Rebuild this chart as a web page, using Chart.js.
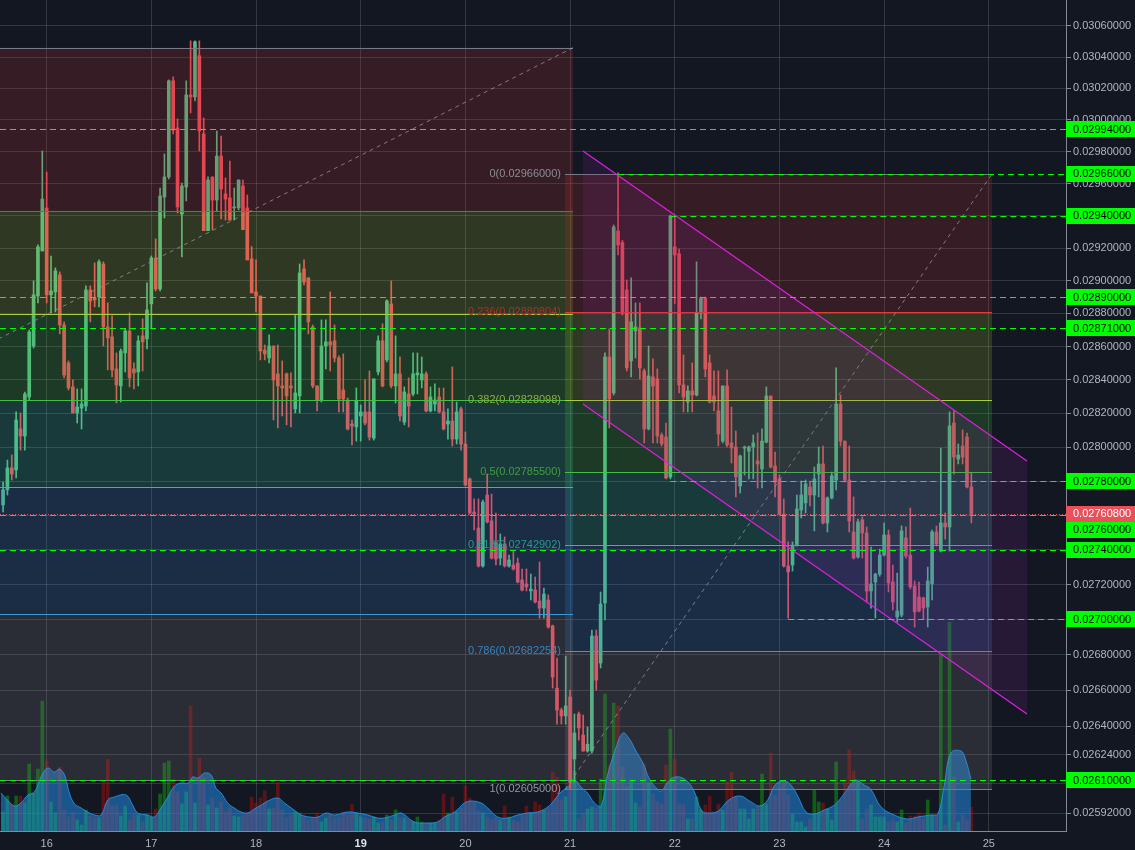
<!DOCTYPE html>
<html>
<head>
<meta charset="utf-8">
<script src="https://cdn.jsdelivr.net/npm/chart.js@4.4.1/dist/chart.umd.min.js"></script>
<style>
  html, body { margin: 0; padding: 0; background: #131722; }
  #wrap { width: 1135px; height: 850px; position: relative; }
</style>
</head>
<body>
<div id="wrap"><canvas id="chart"></canvas></div>
<script>
// hourly candles, hour 0 = day 15 00:00
const firstHour = 14;

const openP = [
  0.02766, 0.027748, 0.027877, 0.027865, 0.028107, 0.028065, 0.028297, 0.028603, 0.028906, 0.029182,
  0.029448, 0.028913, 0.028931, 0.029035, 0.02873, 0.028501, 0.028357, 0.028202, 0.028231, 0.028243,
  0.028943, 0.028894, 0.0289, 0.029102, 0.028718, 0.028658, 0.028465, 0.028363, 0.028561, 0.028694,
  0.028465, 0.028447, 0.028664, 0.028646, 0.028858, 0.029139, 0.028949, 0.029516, 0.029641, 0.030248,
  0.029949, 0.02941, 0.029578, 0.030158, 0.030146, 0.030408, 0.029911, 0.029307, 0.029641, 0.029497,
  0.029772, 0.029535, 0.02951, 0.029448, 0.029448, 0.029585, 0.029448, 0.029133, 0.028931, 0.028906,
  0.028579, 0.028531, 0.028603, 0.028435, 0.028363, 0.028435, 0.028363, 0.028226, 0.028303, 0.029072,
  0.029017, 0.028718, 0.028363, 0.028279, 0.028603, 0.028628, 0.028634, 0.028531, 0.028339, 0.028279,
  0.028136, 0.028119, 0.028184, 0.028208, 0.028208, 0.028053, 0.028447, 0.028634, 0.028519, 0.028858,
  0.028363, 0.028435, 0.028148, 0.028315, 0.028315, 0.028429, 0.028399, 0.028435, 0.028214, 0.028255,
  0.028297, 0.028208, 0.028136, 0.028154, 0.028047, 0.028226, 0.028018, 0.027812, 0.027619, 0.027526,
  0.027306, 0.027718, 0.027567, 0.027439, 0.027352, 0.027433, 0.027306, 0.027312, 0.027323, 0.027226,
  0.027203, 0.027163, 0.027168, 0.027105, 0.027065, 0.027111, 0.026963, 0.026612, 0.026489, 0.026456,
  0.026562, 0.026217, 0.026467, 0.02635, 0.026261, 0.026261, 0.026906, 0.026753, 0.027094, 0.028537,
  0.028321, 0.029305, 0.029234, 0.028943, 0.028513, 0.028694, 0.028712, 0.028453, 0.028107, 0.028417,
  0.028405, 0.028071, 0.028059, 0.027824, 0.029207, 0.029164, 0.028369, 0.028267, 0.028333, 0.028309,
  0.028803, 0.028894, 0.028501, 0.028303, 0.028214, 0.028035, 0.028363, 0.028024, 0.028, 0.027771,
  0.027994, 0.027976, 0.028, 0.027918, 0.027871, 0.028029, 0.028303, 0.027888, 0.027812, 0.027607,
  0.027306, 0.027312, 0.027427, 0.027631, 0.027672, 0.027765, 0.027718, 0.027841, 0.0279, 0.027555,
  0.027701, 0.027806, 0.028255, 0.028035, 0.027806, 0.027503, 0.027358, 0.027573, 0.027497, 0.027163,
  0.027214, 0.027259, 0.027369, 0.027485, 0.027214, 0.027014, 0.027025, 0.027468, 0.027369, 0.027191,
  0.027128, 0.027123, 0.027071, 0.027203, 0.027503, 0.027392, 0.027555, 0.027532, 0.028142, 0.027929,
  0.028006, 0.028059, 0.027765
];
const highP = [
  0.027794, 0.027923, 0.027953, 0.028208, 0.028202, 0.028327, 0.0287, 0.028998, 0.029219, 0.029804,
  0.029672, 0.029151, 0.029078, 0.029053, 0.028749, 0.028513, 0.028399, 0.028345, 0.028345, 0.028968,
  0.028968, 0.029108, 0.029127, 0.029115, 0.028864, 0.028785, 0.028561, 0.028585, 0.028706, 0.028803,
  0.028501, 0.028664, 0.028767, 0.028986, 0.029151, 0.029256, 0.029572, 0.029785, 0.030254, 0.030274,
  0.030006, 0.029603, 0.030248, 0.030504, 0.030504, 0.030504, 0.030012, 0.029641, 0.029641, 0.02993,
  0.029898, 0.029635, 0.029741, 0.029572, 0.029622, 0.029622, 0.029528, 0.029209, 0.029127, 0.028906,
  0.028609, 0.02867, 0.028603, 0.028609, 0.028513, 0.028441, 0.028441, 0.028791, 0.029102, 0.029127,
  0.029017, 0.02873, 0.028363, 0.028761, 0.028761, 0.028931, 0.02873, 0.028543, 0.028555, 0.028291,
  0.02816, 0.028351, 0.028249, 0.028399, 0.028453, 0.028405, 0.028664, 0.028737, 0.028882, 0.028998,
  0.028664, 0.028537, 0.028357, 0.028411, 0.028561, 0.028561, 0.028537, 0.028447, 0.028357, 0.028375,
  0.028351, 0.028351, 0.028226, 0.028477, 0.028267, 0.028237, 0.028089, 0.027818, 0.027695, 0.027695,
  0.027689, 0.027841, 0.027724, 0.027613, 0.027491, 0.027474, 0.027369, 0.027392, 0.027352, 0.027289,
  0.027289, 0.02726, 0.027243, 0.027329, 0.02718, 0.02714, 0.026968, 0.026781, 0.0265, 0.026792,
  0.026601, 0.026467, 0.026478, 0.026461, 0.026394, 0.02694, 0.02694, 0.027157, 0.028561, 0.028706,
  0.029342, 0.029666, 0.029247, 0.029004, 0.029017, 0.028864, 0.028864, 0.028465, 0.028603, 0.028525,
  0.028465, 0.028083, 0.028142, 0.029404, 0.029404, 0.029194, 0.028549, 0.028363, 0.028501, 0.029115,
  0.0289, 0.0289, 0.028549, 0.028453, 0.028453, 0.028363, 0.028459, 0.028237, 0.028095, 0.027953,
  0.028006, 0.028006, 0.028071, 0.028083, 0.028107, 0.028357, 0.028303, 0.02797, 0.027835, 0.027695,
  0.027445, 0.027445, 0.027718, 0.0278, 0.027806, 0.0278, 0.027882, 0.028, 0.028006, 0.027707,
  0.027853, 0.028471, 0.028309, 0.028035, 0.028006, 0.027707, 0.027578, 0.02759, 0.027532, 0.027415,
  0.027265, 0.027404, 0.027555, 0.027514, 0.027312, 0.027265, 0.027538, 0.027532, 0.027642, 0.02722,
  0.027214, 0.027128, 0.0273, 0.027514, 0.027538, 0.027994, 0.027613, 0.028208, 0.028214, 0.028018,
  0.028101, 0.028083, 0.027847
];
const lowP = [
  0.027619, 0.027718, 0.027806, 0.027818, 0.027982, 0.027982, 0.028279, 0.028591, 0.028864, 0.029182,
  0.028864, 0.028803, 0.028809, 0.028676, 0.028411, 0.028339, 0.028202, 0.028142, 0.028107, 0.028214,
  0.028749, 0.02884, 0.02884, 0.028603, 0.028459, 0.028417, 0.028261, 0.028267, 0.028447, 0.028357,
  0.028345, 0.028363, 0.028453, 0.028585, 0.028712, 0.028937, 0.028937, 0.029386, 0.029628, 0.029911,
  0.029417, 0.029145, 0.029491, 0.030044, 0.03012, 0.029804, 0.029307, 0.029307, 0.029313, 0.029429,
  0.02938, 0.029373, 0.029373, 0.029373, 0.029435, 0.029313, 0.029127, 0.028925, 0.028809, 0.028519,
  0.028519, 0.028501, 0.02816, 0.028113, 0.028184, 0.028131, 0.028119, 0.028202, 0.028202, 0.028974,
  0.028676, 0.028351, 0.028214, 0.028267, 0.028465, 0.028453, 0.028507, 0.028208, 0.028208, 0.028101,
  0.028012, 0.028035, 0.028035, 0.028131, 0.028041, 0.028041, 0.028429, 0.028357, 0.028507, 0.028351,
  0.028261, 0.028154, 0.028131, 0.028119, 0.028303, 0.028315, 0.028351, 0.028208, 0.028208, 0.028214,
  0.028202, 0.028101, 0.028047, 0.028006, 0.028018, 0.027982, 0.027771, 0.027607, 0.027514, 0.0273,
  0.0273, 0.027555, 0.027346, 0.027312, 0.027312, 0.0273, 0.0273, 0.027283, 0.027209, 0.027163,
  0.027163, 0.027111, 0.027094, 0.027008, 0.027008, 0.026951, 0.026612, 0.026411, 0.026411, 0.026411,
  0.026052, 0.02609, 0.026322, 0.026261, 0.026255, 0.02625, 0.026601, 0.026725, 0.026997, 0.028113,
  0.028309, 0.029157, 0.028791, 0.028453, 0.028417, 0.028531, 0.028405, 0.028024, 0.028101, 0.028024,
  0.028024, 0.028006, 0.027812, 0.027812, 0.028858, 0.028321, 0.028208, 0.028208, 0.028208, 0.028303,
  0.028767, 0.028417, 0.028261, 0.028214, 0.028006, 0.028024, 0.028, 0.027906, 0.027707, 0.02773,
  0.027835, 0.027812, 0.027812, 0.027759, 0.027759, 0.028024, 0.027877, 0.027707, 0.027602, 0.0273,
  0.027008, 0.027277, 0.027421, 0.027584, 0.027613, 0.027654, 0.027509, 0.027707, 0.027549, 0.027503,
  0.027695, 0.027748, 0.028006, 0.027794, 0.027503, 0.027346, 0.027352, 0.027352, 0.0271, 0.027065,
  0.027008, 0.027247, 0.027364, 0.027157, 0.027054, 0.026986, 0.027014, 0.027352, 0.027174, 0.026957,
  0.027043, 0.027003, 0.026957, 0.027111, 0.027421, 0.027387, 0.027462, 0.027392, 0.027841, 0.0279,
  0.0279, 0.027759, 0.027555
];
const closeP = [
  0.027748, 0.027877, 0.027841, 0.02816, 0.028065, 0.028315, 0.028688, 0.028913, 0.029207, 0.029503,
  0.028913, 0.028937, 0.02906, 0.02873, 0.028429, 0.028351, 0.028202, 0.028237, 0.028255, 0.028943,
  0.028876, 0.028882, 0.029115, 0.028718, 0.028652, 0.028459, 0.028369, 0.028573, 0.028694, 0.028411,
  0.028441, 0.028634, 0.028628, 0.028821, 0.029139, 0.028949, 0.029522, 0.029641, 0.030248, 0.029936,
  0.029454, 0.029585, 0.030158, 0.030146, 0.030498, 0.02993, 0.029307, 0.029622, 0.029497, 0.029772,
  0.029566, 0.029503, 0.029373, 0.029454, 0.029622, 0.029313, 0.029127, 0.028925, 0.028906, 0.028573,
  0.028555, 0.028603, 0.028399, 0.028363, 0.028351, 0.028303, 0.028351, 0.028321, 0.029047, 0.028992,
  0.028749, 0.028363, 0.028279, 0.028603, 0.028628, 0.028609, 0.028531, 0.028285, 0.028285, 0.028107,
  0.028125, 0.028273, 0.028208, 0.028142, 0.028059, 0.028405, 0.028634, 0.028363, 0.028876, 0.028363,
  0.028435, 0.028184, 0.028327, 0.028243, 0.028435, 0.028441, 0.028435, 0.028214, 0.028297, 0.028279,
  0.028208, 0.028107, 0.028154, 0.028047, 0.028208, 0.028018, 0.027777, 0.027613, 0.027607, 0.027306,
  0.027677, 0.027561, 0.027352, 0.027346, 0.027433, 0.027306, 0.027341, 0.027289, 0.027214, 0.027168,
  0.027186, 0.027174, 0.0271, 0.027065, 0.027145, 0.026957, 0.026674, 0.026489, 0.026456, 0.026512,
  0.02609, 0.026361, 0.026389, 0.026261, 0.026299, 0.026906, 0.026657, 0.027088, 0.028537, 0.028285,
  0.02933, 0.029219, 0.028803, 0.028471, 0.028749, 0.028718, 0.028471, 0.028107, 0.028423, 0.028363,
  0.028065, 0.028018, 0.027818, 0.029398, 0.029157, 0.028369, 0.028297, 0.028333, 0.028309, 0.028803,
  0.028894, 0.028465, 0.028267, 0.028267, 0.028077, 0.028363, 0.028012, 0.027994, 0.027824, 0.027947,
  0.028, 0.028, 0.028024, 0.0279, 0.028035, 0.028303, 0.027882, 0.027794, 0.027607, 0.027306,
  0.027272, 0.027427, 0.027637, 0.027718, 0.027783, 0.027718, 0.027812, 0.0279, 0.027555, 0.027701,
  0.02783, 0.028255, 0.028035, 0.027806, 0.027567, 0.027352, 0.027561, 0.027497, 0.027163, 0.027203,
  0.027259, 0.027369, 0.027485, 0.027209, 0.0271, 0.027048, 0.027509, 0.027364, 0.027186, 0.027043,
  0.027048, 0.027065, 0.02722, 0.027503, 0.027433, 0.027555, 0.027532, 0.028125, 0.027941, 0.027953,
  0.027941, 0.027765, 0.027608
];
const volume = [
  19, 35, 27, 35, 35, 28, 67, 38, 62, 130,
  70, 29, 18, 64, 21, 14, 19, 11, 6, 21,
  15, 14, 13, 49, 72, 25, 25, 15, 25, 11,
  16, 16, 9, 16, 14, 22, 37, 68, 70, 52,
  39, 27, 39, 125, 28, 73, 53, 26, 33, 23,
  29, 19, 23, 15, 14, 16, 19, 34, 28, 33,
  40, 22, 23, 49, 21, 13, 16, 19, 18, 16,
  11, 13, 18, 9, 13, 17, 14, 14, 19, 16,
  27, 18, 14, 13, 12, 14, 8, 9, 16, 11,
  21, 13, 13, 11, 9, 14, 9, 8, 8, 8,
  11, 37, 18, 34, 19, 23, 45, 33, 29, 20,
  18, 14, 11, 13, 11, 25, 14, 11, 9, 16,
  25, 18, 29, 26, 21, 23, 59, 54, 31, 34,
  60, 60, 12, 18, 22, 24, 23, 52, 137, 66,
  128, 125, 64, 45, 51, 28, 24, 67, 48, 37,
  29, 27, 66, 102, 72, 27, 26, 12, 12, 34,
  21, 26, 35, 19, 27, 21, 49, 59, 34, 22,
  22, 12, 22, 24, 57, 27, 78, 36, 44, 49,
  36, 17, 9, 9, 4, 12, 41, 29, 28, 22,
  11, 69, 31, 51, 81, 60, 51, 12, 22, 26,
  14, 14, 14, 9, 11, 9, 21, 8, 15, 15,
  18, 12, 31, 16, 17, 176, 6, 209, 54, 9,
  16, 11, 24
];

// volume average (blue area), read at these hours
const volMaHours = [
  13.5, 15, 16.6, 18.1, 19.7, 21.2, 22.7, 24.2, 25.8, 26.9,
  28.1, 29.2, 30.4, 31.9, 33.4, 35, 36.5, 38, 39.5, 42.2,
  43.7, 44.9, 47.2, 48.7, 50.2, 51.8, 53.3, 54.8, 56.4, 57.5,
  58.7, 60.2, 61.7, 62.8, 64, 65.5, 67, 68.6, 70.1, 71.6,
  73.2, 74.7, 77, 78.5, 80.1, 82.4, 84.3, 86.2, 88.1, 90,
  93, 95.3, 97.6, 99.9, 101.4, 103.8, 105.3, 108.3, 111.4, 113.6,
  115.2, 117.5, 119.8, 121.3, 123.6, 125.1, 127.4, 129.7, 132, 134.3,
  136.6, 138.9, 140.4, 141.9, 143.5, 145, 146.5, 148, 149.6, 151.1,
  152.6, 154.5, 156.1, 157.6, 159.1, 160.7, 162.2, 164, 165, 166.4,
  168, 170.2, 172.3, 174.2, 176, 178, 180.4, 183, 185.5, 187.5,
  189.3, 191, 193.2, 194.8, 196.3, 198.1, 200, 202.3, 204.6, 206.8,
  208.4, 209.5, 211.4, 212.9, 215.3, 218.3, 221.4, 223.7, 226.7, 228.3,
  229.8, 231.3, 233.6, 234.7, 235.9
];
const volMaValues = [
  38, 31, 25, 28, 36, 39, 54, 63, 59, 62,
  56, 38, 27, 23, 19, 16, 16, 31, 34, 36,
  26, 18, 16, 14, 23, 34, 45, 48, 48, 54,
  53, 58, 56, 43, 38, 28, 23, 19, 18, 22,
  26, 30, 33, 28, 23, 16, 14, 14, 18, 16,
  19, 18, 16, 13, 13, 16, 18, 9, 8, 9,
  14, 19, 28, 30, 28, 23, 14, 13, 16, 18,
  19, 24, 31, 39, 44, 51, 44, 38, 28, 25,
  56, 83, 98, 92, 80, 68, 52, 42, 40, 49,
  54, 52, 41, 20, 18, 20, 31, 35, 29, 25,
  31, 46, 50, 45, 34, 19, 17, 21, 26, 37,
  47, 51, 46, 42, 24, 16, 12, 14, 16, 17,
  46, 78, 80, 71, 52
];

const dayTicks = [24, 48, 72, 96, 120, 144, 168, 192, 216, 240];
const dayLabels = ["16", "17", "18", "19", "20", "21", "22", "23", "24", "25"];
const boldDay = 96;

const priceTicks = [
  0.0306, 0.0304, 0.0302, 0.03, 0.0298, 0.0296, 0.0294, 0.0292, 0.029, 0.0288,
  0.0286, 0.0284, 0.0282, 0.028, 0.0278, 0.0276, 0.0274, 0.0272, 0.027, 0.0268,
  0.0266, 0.0264, 0.02624, 0.02608, 0.02592
];

// horizontal alerts: price and the hour they start at (null = whole width)
const alertPrices = [0.02994, 0.02966, 0.0294, 0.0289, 0.02871, 0.0278, 0.0276, 0.0274, 0.027, 0.0261];
const alertStart  = [null, 155, 167, null, null, 167, null, null, 194, null];
const lastPrice = 0.027608;

// fib retracements: from = level 1, to = level 0
const fibLevels = [0, 0.236, 0.382, 0.5, 0.618, 0.786, 1];
const fibLeft  = { from: { hour: -186.6, price: 0.0261 },  to: { hour: 144.67, price: 0.03046 } };
const fibRight = { from: { hour: 142.84, price: 0.02605 }, to: { hour: 240.74, price: 0.02966 } };

// descending channel
const channelTop    = [{ hour: 146.97, price: 0.029804 }, { hour: 248.76, price: 0.027918 }];
const channelBottom = [{ hour: 146.97, price: 0.028255 }, { hour: 248.76, price: 0.026467 }];

// ---- styles ----
const UP = "#53b987", DOWN = "#eb4d5c";
const VOL_UP = "rgba(14,163,12,0.5)", VOL_DOWN = "rgba(165,15,12,0.5)";
const fibLineColors = ["#787b86", "#e53935", "#a5cf3c", "#43c043", "#2fbf9f", "#3a9ad9", "#787b86"];
const fibTextColors = ["#8a8d96", "#a8322d", "#8fae3a", "#3f9f3f", "#2a9a8a", "#3585c0", "#9598a1"];
const fibFillColors = [null,
  "rgba(194,48,44,0.2)", "rgba(159,188,34,0.2)", "rgba(69,198,54,0.2)",
  "rgba(49,198,154,0.2)", "rgba(54,133,209,0.2)", "rgba(134,128,134,0.2)"];
const FONT = '"Liberation Sans", Arial, sans-serif';

Chart.defaults.font.family = FONT;

const hours = openP.map((_, i) => firstHour + i);
const isUp = openP.map((o, i) => closeP[i] >= o);

function drawFib(chart, fib, withLabels) {
  const { ctx, scales: { x, y } } = chart;
  const x0 = x.getPixelForValue(fib.from.hour);
  const x1 = x.getPixelForValue(fib.to.hour);
  const levelPrice = l => fib.to.price - l * (fib.to.price - fib.from.price);
  const ys = fibLevels.map(l => y.getPixelForValue(levelPrice(l)));

  for (let i = 1; i < ys.length; i++) {
    ctx.fillStyle = fibFillColors[i];
    ctx.fillRect(x0, ys[i - 1], x1 - x0, ys[i] - ys[i - 1]);
  }
  ctx.lineWidth = 1;
  ys.forEach((yy, i) => {
    ctx.strokeStyle = fibLineColors[i];
    ctx.beginPath();
    ctx.moveTo(x0, Math.round(yy) + 0.5);
    ctx.lineTo(x1, Math.round(yy) + 0.5);
    ctx.stroke();
  });

  ctx.setLineDash([4, 4]);
  ctx.strokeStyle = "rgba(150,153,161,0.75)";
  ctx.beginPath();
  ctx.moveTo(x0, y.getPixelForValue(fib.from.price));
  ctx.lineTo(x1, y.getPixelForValue(fib.to.price));
  ctx.stroke();
  ctx.setLineDash([]);

  if (withLabels) {
    ctx.font = "11px " + FONT;
    ctx.textAlign = "right";
    ctx.textBaseline = "middle";
    fibLevels.forEach((l, i) => {
      ctx.fillStyle = fibTextColors[i];
      ctx.fillText(`${l}(${levelPrice(l).toFixed(8)})`, x0 - 4, ys[i]);
    });
  }
}

const overlayPlugin = {
  id: "overlay",
  beforeDraw(chart) {
    const { ctx, width, height } = chart;
    ctx.save();
    ctx.fillStyle = "#131722";
    ctx.fillRect(0, 0, width, height);
    ctx.restore();
  },
  afterDatasetsDraw(chart) {
    const { ctx, chartArea: a, scales: { x, y } } = chart;
    ctx.save();
    ctx.beginPath();
    ctx.rect(a.left, a.top, a.right - a.left, a.bottom - a.top);
    ctx.clip();

    drawFib(chart, fibLeft, false);
    drawFib(chart, fibRight, true);

    // channel
    const pt = p => [x.getPixelForValue(p.hour), y.getPixelForValue(p.price)];
    const [t0, t1] = channelTop.map(pt);
    const [b0, b1] = channelBottom.map(pt);
    ctx.fillStyle = "rgba(156,39,176,0.14)";
    ctx.beginPath();
    ctx.moveTo(...t0); ctx.lineTo(...t1); ctx.lineTo(...b1); ctx.lineTo(...b0);
    ctx.closePath();
    ctx.fill();
    ctx.strokeStyle = "#e01ee0";
    ctx.lineWidth = 1.2;
    for (const [p, q] of [[t0, t1], [b0, b1]]) {
      ctx.beginPath(); ctx.moveTo(...p); ctx.lineTo(...q); ctx.stroke();
    }

    // alert lines
    ctx.lineWidth = 1;
    ctx.setLineDash([6, 4]);
    ctx.strokeStyle = "#00ff00";
    alertPrices.forEach((p, i) => {
      const yy = Math.round(y.getPixelForValue(p)) + 0.5;
      const xs = alertStart[i] === null ? a.left : x.getPixelForValue(alertStart[i]);
      ctx.beginPath(); ctx.moveTo(xs, yy); ctx.lineTo(a.right, yy); ctx.stroke();
    });

    // last price
    ctx.setLineDash([1, 2]);
    ctx.strokeStyle = "#ef5350";
    const ly = Math.round(y.getPixelForValue(lastPrice)) + 0.5;
    ctx.beginPath(); ctx.moveTo(a.left, ly); ctx.lineTo(a.right, ly); ctx.stroke();
    ctx.setLineDash([]);
    ctx.restore();
  },
  afterDraw(chart) {
    const { ctx, chartArea: a, scales: { y }, width } = chart;
    const h = 16;
    const redY = y.getPixelForValue(lastPrice);
    ctx.save();
    ctx.font = "11px " + FONT;
    ctx.textAlign = "left";
    ctx.textBaseline = "middle";
    alertPrices.forEach(p => {
      let yy = y.getPixelForValue(p);
      if (Math.abs(yy - redY) < h) yy = yy >= redY ? redY + h : redY - h;
      ctx.fillStyle = "#00ff00";
      ctx.fillRect(a.right, Math.round(yy - h / 2), width - a.right, h);
      ctx.fillStyle = "#000000";
      ctx.fillText(p.toFixed(8), a.right + 7, yy + 0.5);
    });
    ctx.fillStyle = "#e9505a";
    ctx.fillRect(a.right, Math.round(redY - h / 2), width - a.right, h);
    ctx.fillStyle = "#ffffff";
    ctx.fillText(lastPrice.toFixed(8), a.right + 7, redY + 0.5);
    ctx.restore();
  }
};

const GRID = "rgba(120,123,134,0.32)";

function noPadding(s) {
  s.paddingTop = 0; s.paddingBottom = 0; s.paddingLeft = 0; s.paddingRight = 0;
}

new Chart(document.getElementById("chart"), {
  data: {
    datasets: [
      {
        type: "line",
        yAxisID: "yVol",
        data: volMaHours.map((hr, i) => ({ x: hr, y: volMaValues[i] })),
        fill: "origin",
        backgroundColor: "rgba(33,150,243,0.5)",
        borderColor: "rgba(33,150,243,0.85)",
        borderWidth: 1,
        tension: 0.4,
        pointRadius: 0,
        order: 3
      },
      {
        type: "bar",
        yAxisID: "yVol",
        data: hours.map((hr, i) => ({ x: hr, y: volume[i] })),
        backgroundColor: isUp.map(u => u ? VOL_UP : VOL_DOWN),
        barThickness: 3,
        grouped: false,
        order: 4
      },
      {
        type: "bar",
        yAxisID: "y",
        data: hours.map((hr, i) => ({ x: hr, y: [lowP[i], highP[i]] })),
        backgroundColor: isUp.map(u => u ? UP : DOWN),
        barThickness: 1,
        grouped: false,
        order: 2
      },
      {
        type: "bar",
        yAxisID: "y",
        data: hours.map((hr, i) => ({ x: hr, y: [openP[i], closeP[i]] })),
        backgroundColor: isUp.map(u => u ? UP : DOWN),
        barThickness: 3,
        minBarLength: 1,
        grouped: false,
        order: 1
      }
    ]
  },
  options: {
    animation: false,
    responsive: true,
    maintainAspectRatio: false,
    layout: { padding: 0 },
    plugins: { legend: { display: false }, tooltip: { enabled: false } },
    scales: {
      x: {
        type: "linear",
        bounds: "data",
        offset: false,
        min: 13.3,
        max: 257.7,
        afterFit(s) { s.height = 19; noPadding(s); },
        afterBuildTicks(s) { s.ticks = dayTicks.map(v => ({ value: v })); },
        ticks: {
          autoSkip: false,
          maxRotation: 0,
          padding: 6,
          callback: (v, i) => dayLabels[i],
          color: c => c.tick && c.tick.value === boldDay ? "#e0e3eb" : "#b2b5be",
          font: c => ({ size: 11, weight: c.tick && c.tick.value === boldDay ? "bold" : "normal" })
        },
        grid: { color: GRID, drawTicks: false, offset: false },
        border: { color: "#868993" }
      },
      y: {
        type: "logarithmic",
        position: "right",
        bounds: "data",
        min: 0.025822,
        max: 0.030768,
        afterFit(s) { s.width = 69; noPadding(s); },
        afterBuildTicks(s) { s.ticks = priceTicks.map(v => ({ value: v })); },
        ticks: {
          autoSkip: false,
          padding: 2,
          color: "#b2b5be",
          font: { size: 11 },
          callback: v => Number(v).toFixed(8)
        },
        grid: { color: GRID, tickLength: 5, tickColor: "#868993" },
        border: { color: "#868993" }
      },
      yVol: {
        type: "linear",
        display: false,
        min: 0,
        max: 831
      }
    }
  },
  plugins: [overlayPlugin]
});
</script>
</body>
</html>
